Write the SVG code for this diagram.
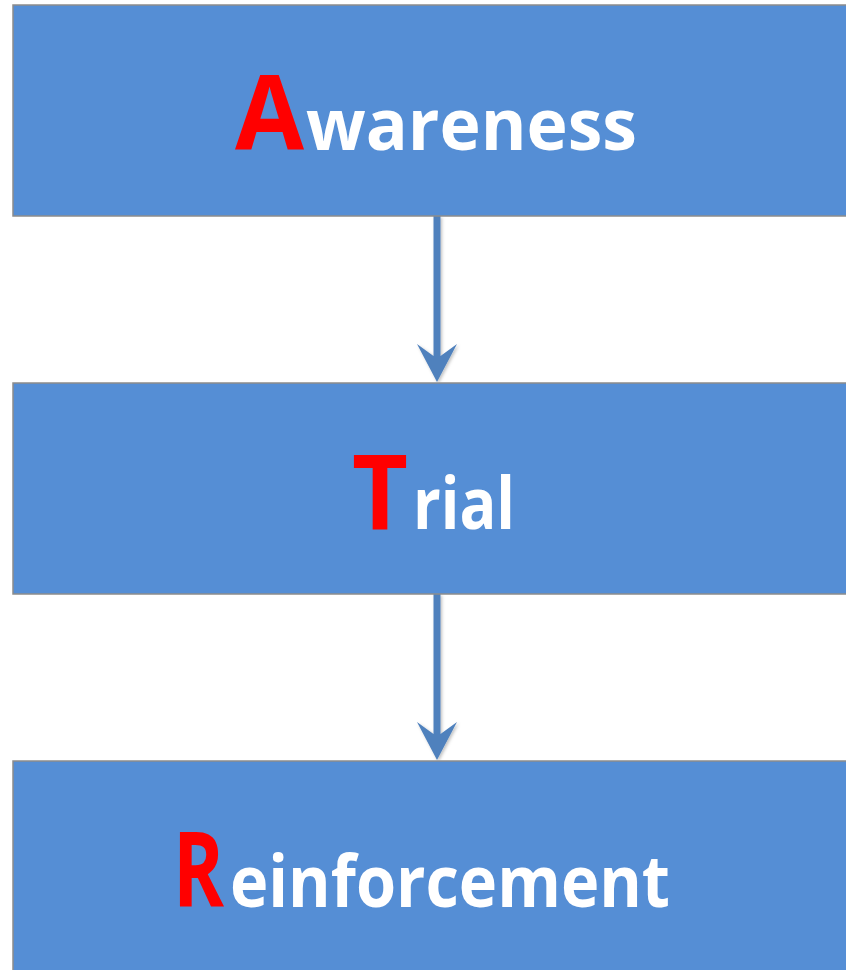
<svg xmlns="http://www.w3.org/2000/svg" width="846" height="970" viewBox="0 0 846 970">
  <style>
    .box { fill: #558ED5; stroke: #8C8C8C; stroke-width: 1.5; }
    .lbl { font-family: "Open Sans", "Liberation Sans", sans-serif; font-weight: bold; }
    .init { fill: #FF0000; font-size: 104px; }
    .rest { fill: #FFFFFF; font-size: 71px; }
    .link { fill: #4F81BD; filter: url(#shade); }
  </style>
  <defs>
    <filter id="shade" x="-50%" y="-10%" width="200%" height="120%">
      <feDropShadow dx="1.5" dy="1.5" stdDeviation="1.5" flood-color="#000000" flood-opacity="0.25"/>
    </filter>
  </defs>

  <g id="connectors">
    <path class="link" d="M433.5 216 L440.5 216 L440.5 356 L457 344 L437 382 L417 344 L433.5 356 Z"/>
    <path class="link" d="M433.5 594 L440.5 594 L440.5 734 L457 722 L437 760 L417 722 L433.5 734 Z"/>
  </g>

  <g id="awareness">
    <rect class="box" x="13" y="5" width="848" height="211"/>
    <text class="lbl" y="150"><tspan class="init" x="235" textLength="69" lengthAdjust="spacingAndGlyphs">A</tspan><tspan class="rest" x="306" textLength="331" lengthAdjust="spacingAndGlyphs">wareness</tspan></text>
  </g>

  <g id="trial">
    <rect class="box" x="13" y="383" width="848" height="211"/>
    <text class="lbl" y="529"><tspan class="init" x="352" textLength="56" lengthAdjust="spacingAndGlyphs">T</tspan><tspan class="rest" x="413" textLength="102" lengthAdjust="spacingAndGlyphs">rial</tspan></text>
  </g>

  <g id="reinforcement">
    <rect class="box" x="13" y="761" width="848" height="211"/>
    <text class="lbl" y="907"><tspan class="init" x="173" textLength="51" lengthAdjust="spacingAndGlyphs">R</tspan><tspan class="rest" x="230" textLength="440" lengthAdjust="spacingAndGlyphs">einforcement</tspan></text>
  </g>
</svg>
